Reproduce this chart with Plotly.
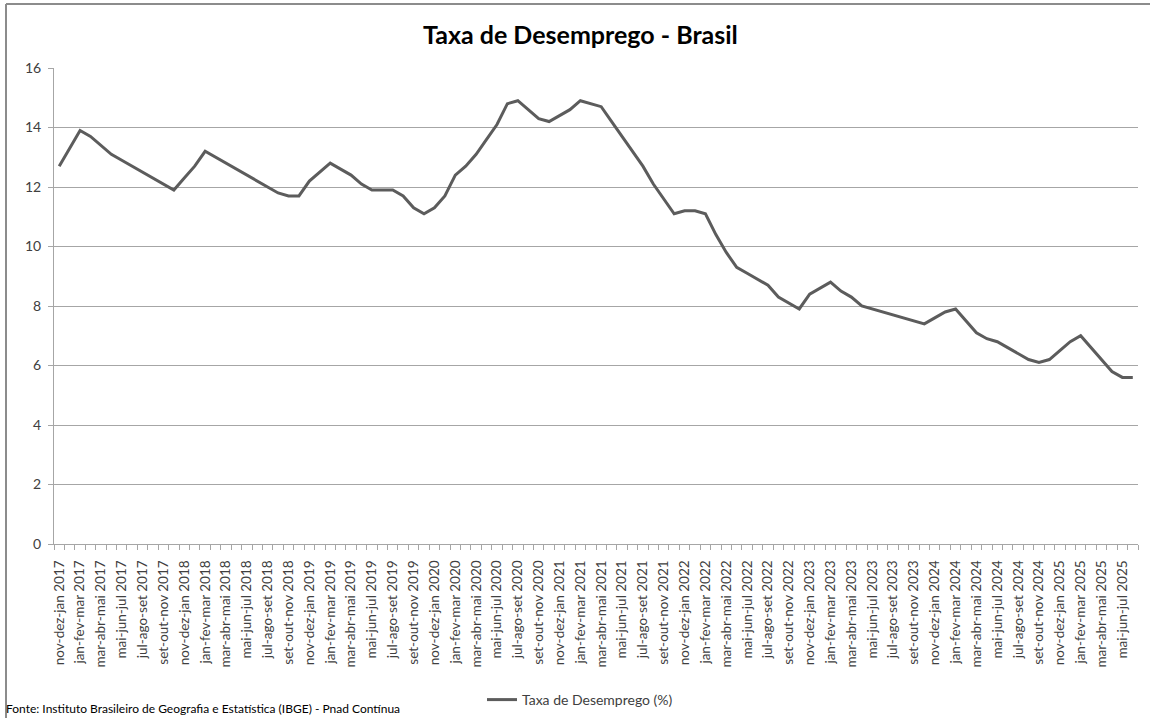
import plotly.graph_objects as go

months = ["jan", "fev", "mar", "abr", "mai", "jun", "jul", "ago", "set", "out", "nov", "dez"]
start_year = 2017
n_points = 104

# Rolling-quarter category labels (nov-dez-jan 2017 ... jun-jul-ago 2025)
categories = [
    f"{months[(k - 2) % 12]}-{months[(k - 1) % 12]}-{months[k % 12]} {start_year + k // 12}"
    for k in range(n_points)
]

rate_2017 = [12.7, 13.3, 13.9, 13.7, 13.4, 13.1, 12.9, 12.7, 12.5, 12.3, 12.1, 11.9]
rate_2018 = [12.3, 12.7, 13.2, 13.0, 12.8, 12.6, 12.4, 12.2, 12.0, 11.8, 11.7, 11.7]
rate_2019 = [12.2, 12.5, 12.8, 12.6, 12.4, 12.1, 11.9, 11.9, 11.9, 11.7, 11.3, 11.1]
rate_2020 = [11.3, 11.7, 12.4, 12.7, 13.1, 13.6, 14.1, 14.8, 14.9, 14.6, 14.3, 14.2]
rate_2021 = [14.4, 14.6, 14.9, 14.8, 14.7, 14.2, 13.7, 13.2, 12.7, 12.1, 11.6, 11.1]
rate_2022 = [11.2, 11.2, 11.1, 10.4, 9.8, 9.3, 9.1, 8.9, 8.7, 8.3, 8.1, 7.9]
rate_2023 = [8.4, 8.6, 8.8, 8.5, 8.3, 8.0, 7.9, 7.8, 7.7, 7.6, 7.5, 7.4]
rate_2024 = [7.6, 7.8, 7.9, 7.5, 7.1, 6.9, 6.8, 6.6, 6.4, 6.2, 6.1, 6.2]
rate_2025 = [6.5, 6.8, 7.0, 6.6, 6.2, 5.8, 5.6, 5.6]

values = rate_2017 + rate_2018 + rate_2019 + rate_2020 + rate_2021 + rate_2022 + rate_2023 + rate_2024 + rate_2025

y_ticks = [0, 2, 4, 6, 8, 10, 12, 14, 16]

title_text = "Taxa de Desemprego - Brasil"
series_name = "Taxa de Desemprego (%)"
source_text = "Fonte: Instituto Brasileiro de Geografia e Estatística (IBGE) - Pnad Contínua"

W, H = 1150, 718
ML, MR, MT, MB = 54, 12, 68, 174
PW, PH = W - ML - MR, H - MT - MB


def px_x(px):
    return (px - ML) / PW


def px_y(py):
    return (H - MB - py) / PH


FONT = "Lato"
x_idx = list(range(len(values)))

fig = go.Figure()
fig.add_trace(go.Scatter(
    x=x_idx, y=values, mode="lines", name=series_name,
    line=dict(color="#5c5c5c", width=3), showlegend=True,
))

fig.update_layout(
    width=W, height=H,
    margin=dict(l=ML, r=MR, t=MT, b=MB, autoexpand=False),
    paper_bgcolor="white", plot_bgcolor="white",
    font=dict(family=FONT, size=13, color="#404040"),
    showlegend=True,
    legend=dict(orientation="h", x=px_x(482), xanchor="left", y=px_y(684), yanchor="top",
                font=dict(family=FONT, size=14, color="#404040"), bgcolor="rgba(0,0,0,0)",
                itemwidth=30, tracegroupgap=0),
    xaxis=dict(
        range=[-0.5, len(values) - 0.5], automargin=False,
        tickmode="array", tickvals=x_idx[::2], ticktext=categories[::2],
        tickangle=-90, ticks="", showgrid=False, zeroline=False,
        showline=True, linecolor="#a6a6a6", linewidth=1,
        ticklabelstandoff=10,
        tickfont=dict(family=FONT, size=13.5, color="#404040"),
        minor=dict(ticks="outside", tick0=-0.5, dtick=1, ticklen=5, tickcolor="#a6a6a6", showgrid=False),
    ),
    yaxis=dict(
        range=[0, 16], tickmode="array", tickvals=y_ticks, automargin=False,
        showgrid=True, gridcolor="#a6a6a6", gridwidth=1, zeroline=False,
        showline=True, linecolor="#a6a6a6", linewidth=1,
        ticks="outside", ticklen=5, tickcolor="#a6a6a6",
        ticklabelstandoff=4,
        tickfont=dict(family=FONT, size=14, color="#404040"),
    ),
    annotations=[
        dict(text=f"<b>{title_text}</b>", xref="paper", yref="paper",
             x=px_x(580), y=px_y(34), xanchor="center", yanchor="middle",
             showarrow=False, font=dict(family=FONT, size=25, color="black")),
        dict(text=source_text, xref="paper", yref="paper",
             x=px_x(4), y=px_y(708), xanchor="left", yanchor="middle",
             showarrow=False, font=dict(family=FONT, size=12, color="black")),
    ],
    shapes=[
        dict(type="line", xref="paper", yref="paper", x0=px_x(6), x1=px_x(1150), y0=px_y(4), y1=px_y(4),
             line=dict(color="#8c8c8c", width=2)),
        dict(type="line", xref="paper", yref="paper", x0=px_x(6), x1=px_x(6), y0=px_y(4), y1=px_y(718),
             line=dict(color="#8c8c8c", width=2)),
    ],
)

fig.write_html("out.html", config={"displayModeBar": False},
               post_script="document.body.style.margin='0';")
